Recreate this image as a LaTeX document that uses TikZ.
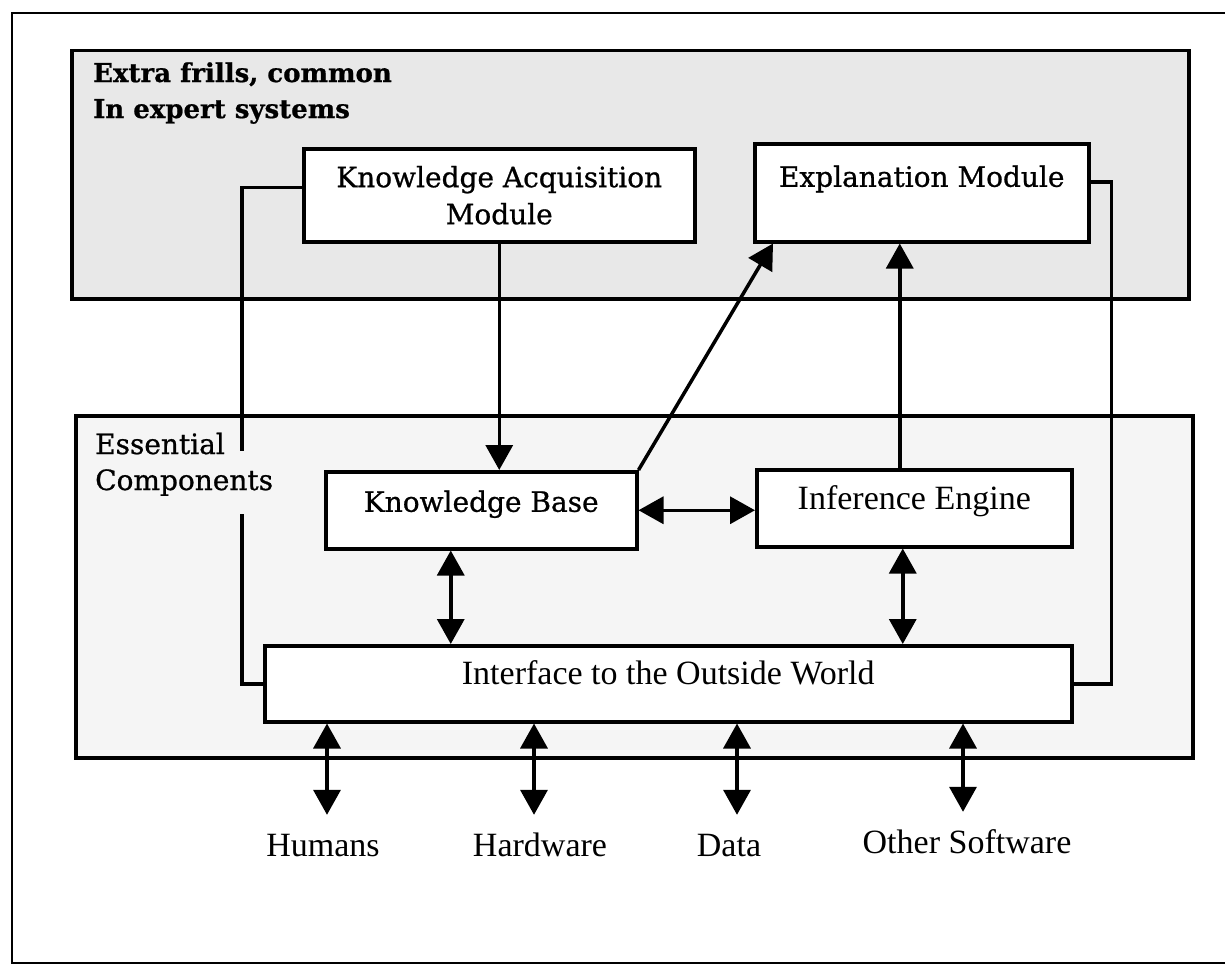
\documentclass[tikz,border=0pt]{standalone}
\usepackage{fontspec}
\setmainfont{Liberation Serif}
\newfontfamily\bookfont[FakeBold=0.8]{DejaVu Serif}
\usetikzlibrary{arrows.meta}

\tikzset{
  region/.style={draw, line width=3.5pt, anchor=north west, inner sep=0pt},
  box/.style={draw, line width=3.5pt, fill=white, anchor=north west, inner sep=0pt},
  wide/.style={font=\bookfont\fontsize{28}{37}\selectfont},
  roman/.style={font=\fontsize{34}{40}\selectfont},
  heading/.style={anchor=base west, inner sep=0pt, font=\bookfont\bfseries\fontsize{26}{30}\selectfont},
  link/.style={line width=3.5pt},
  outlabel/.style={roman, anchor=base, inner sep=0pt, text height=41pt},
}

\begin{document}
\begin{tikzpicture}[x=1pt, y=-1pt, >={Triangle[length=25pt,width=27pt]}]
\useasboundingbox (0,0) rectangle (1225,966);
\clip (0,0) rectangle (1225,966);

% page frame
\draw[line width=2.5pt] (12,13) rectangle (1240,963);

% shaded groups
\node[region, fill=black!9, minimum width=1117pt, minimum height=248pt] (frills) at (70,49) {};
\node[region, fill=black!4, minimum width=1117pt, minimum height=342pt] (core) at (74,414) {};

\node[heading] (frillsA) at (93,82) {Extra frills, common};
\node[heading] (frillsB) at (93,118) {In expert systems};

% modules
\node[box, wide, align=center, minimum width=391pt, minimum height=93pt] (kam) at (302,147) {Knowledge Acquisition\\Module};
\node[box, wide, minimum width=334pt, text height=43pt, text depth=55pt] (em) at (753,142) {Explanation Module};
\node[box, wide, minimum width=311pt, text height=40pt, text depth=37pt] (kb) at (324,470) {Knowledge Base};
\node[box, roman, minimum width=315pt, text height=40pt, text depth=37pt] (ie) at (755,468) {Inference Engine};
\node[box, roman, minimum width=807pt, text height=39pt, text depth=37pt] (io) at (263,644) {Interface to the Outside World};

% external parties
\node[outlabel] (hum) at (323,856) {Humans};
\node[outlabel] (hw) at (540,856) {Hardware};
\node[outlabel] (dat) at (729,856) {Data};
\node[outlabel] (sw) at (967,853) {Other Software};

% side links to the interface
\draw[link] ([yshift=8pt]kam.west) -- ++(-60,0) |- (io.west);
\draw[link] ([yshift=11pt]em.east) -- ++(21,0) |- (io.east);

% group label drawn over the left link
\node[anchor=base west, inner xsep=0pt, inner ysep=18pt, fill=black!4, wide] (essB) at (95,490) {Components};
\node[anchor=base west, inner sep=0pt, wide] (essA) at (95,454) {Essential};

% data flow
\draw[link, ->] (kam.south) -- (kam.south |- kb.north);
\draw[link, ->] (kb.north east) -- ([xshift=20pt]em.south west);
\draw[link, ->] ([xshift=-14.5pt]ie.north) -- ([xshift=-14.5pt]ie.north |- em.south);
\draw[link, <->] (kb.east) -- (kb.east -| ie.west);
\draw[link, <->] ([xshift=-30.5pt]kb.south) -- ([xshift=-30.5pt]kb.south |- io.north);
\draw[link, <->] ([xshift=-11.5pt]ie.south) -- ([xshift=-11.5pt]ie.south |- io.north);

\draw[link, <->] ([xshift=4pt]hum.north |- io.south) -- ([xshift=4pt]hum.north);
\draw[link, <->] ([xshift=-6pt]hw.north |- io.south) -- ([xshift=-6pt]hw.north);
\draw[link, <->] ([xshift=8pt]dat.north |- io.south) -- ([xshift=8pt]dat.north);
\draw[link, <->] ([xshift=-4pt]sw.north |- io.south) -- ([xshift=-4pt]sw.north);
\end{tikzpicture}
\end{document}
